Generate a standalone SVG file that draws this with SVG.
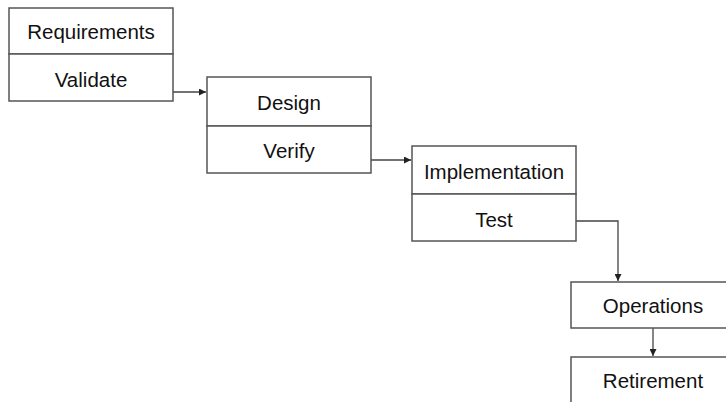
<svg xmlns="http://www.w3.org/2000/svg" width="726" height="402" viewBox="0 0 726 402">
<defs>
<style>
.box{fill:#fff;stroke:#555;stroke-width:1.5}
.t{font-family:"Liberation Sans",Arial,sans-serif;font-size:20.5px;fill:#111;text-anchor:middle}
.c{fill:none;stroke:#444;stroke-width:1.3}
</style>
<marker id="ah" viewBox="0 0 10 10" refX="10" refY="5" markerWidth="7" markerHeight="7" markerUnits="userSpaceOnUse" orient="auto"><path d="M0,0L10,5L0,10z" fill="#222"/></marker>
</defs>
<rect width="726" height="402" fill="#fff"/>
<g id="connectors">
<path class="c" d="M173,92H206" marker-end="url(#ah)"/>
<path class="c" d="M371,160H411" marker-end="url(#ah)"/>
<path class="c" d="M576,221H618V281" marker-end="url(#ah)"/>
<path class="c" d="M653,328V356" marker-end="url(#ah)"/>
</g>
<g id="requirements"><rect class="box" x="9" y="8" width="164" height="46"/><text class="t" x="91" y="39">Requirements</text></g>
<g id="validate"><rect class="box" x="9" y="54" width="164" height="47"/><text class="t" x="91" y="87">Validate</text></g>
<g id="design"><rect class="box" x="207" y="77" width="164" height="49"/><text class="t" x="289" y="110">Design</text></g>
<g id="verify"><rect class="box" x="207" y="126" width="164" height="47"/><text class="t" x="289" y="158">Verify</text></g>
<g id="implementation"><rect class="box" x="412" y="146" width="164" height="48"/><text class="t" x="494" y="179">Implementation</text></g>
<g id="test"><rect class="box" x="412" y="194" width="164" height="47"/><text class="t" x="494" y="227">Test</text></g>
<g id="operations"><rect class="box" x="571" y="282" width="164" height="46"/><text class="t" x="653" y="313">Operations</text></g>
<g id="retirement"><rect class="box" x="571" y="357" width="164" height="60"/><text class="t" x="653" y="388">Retirement</text></g>
</svg>
